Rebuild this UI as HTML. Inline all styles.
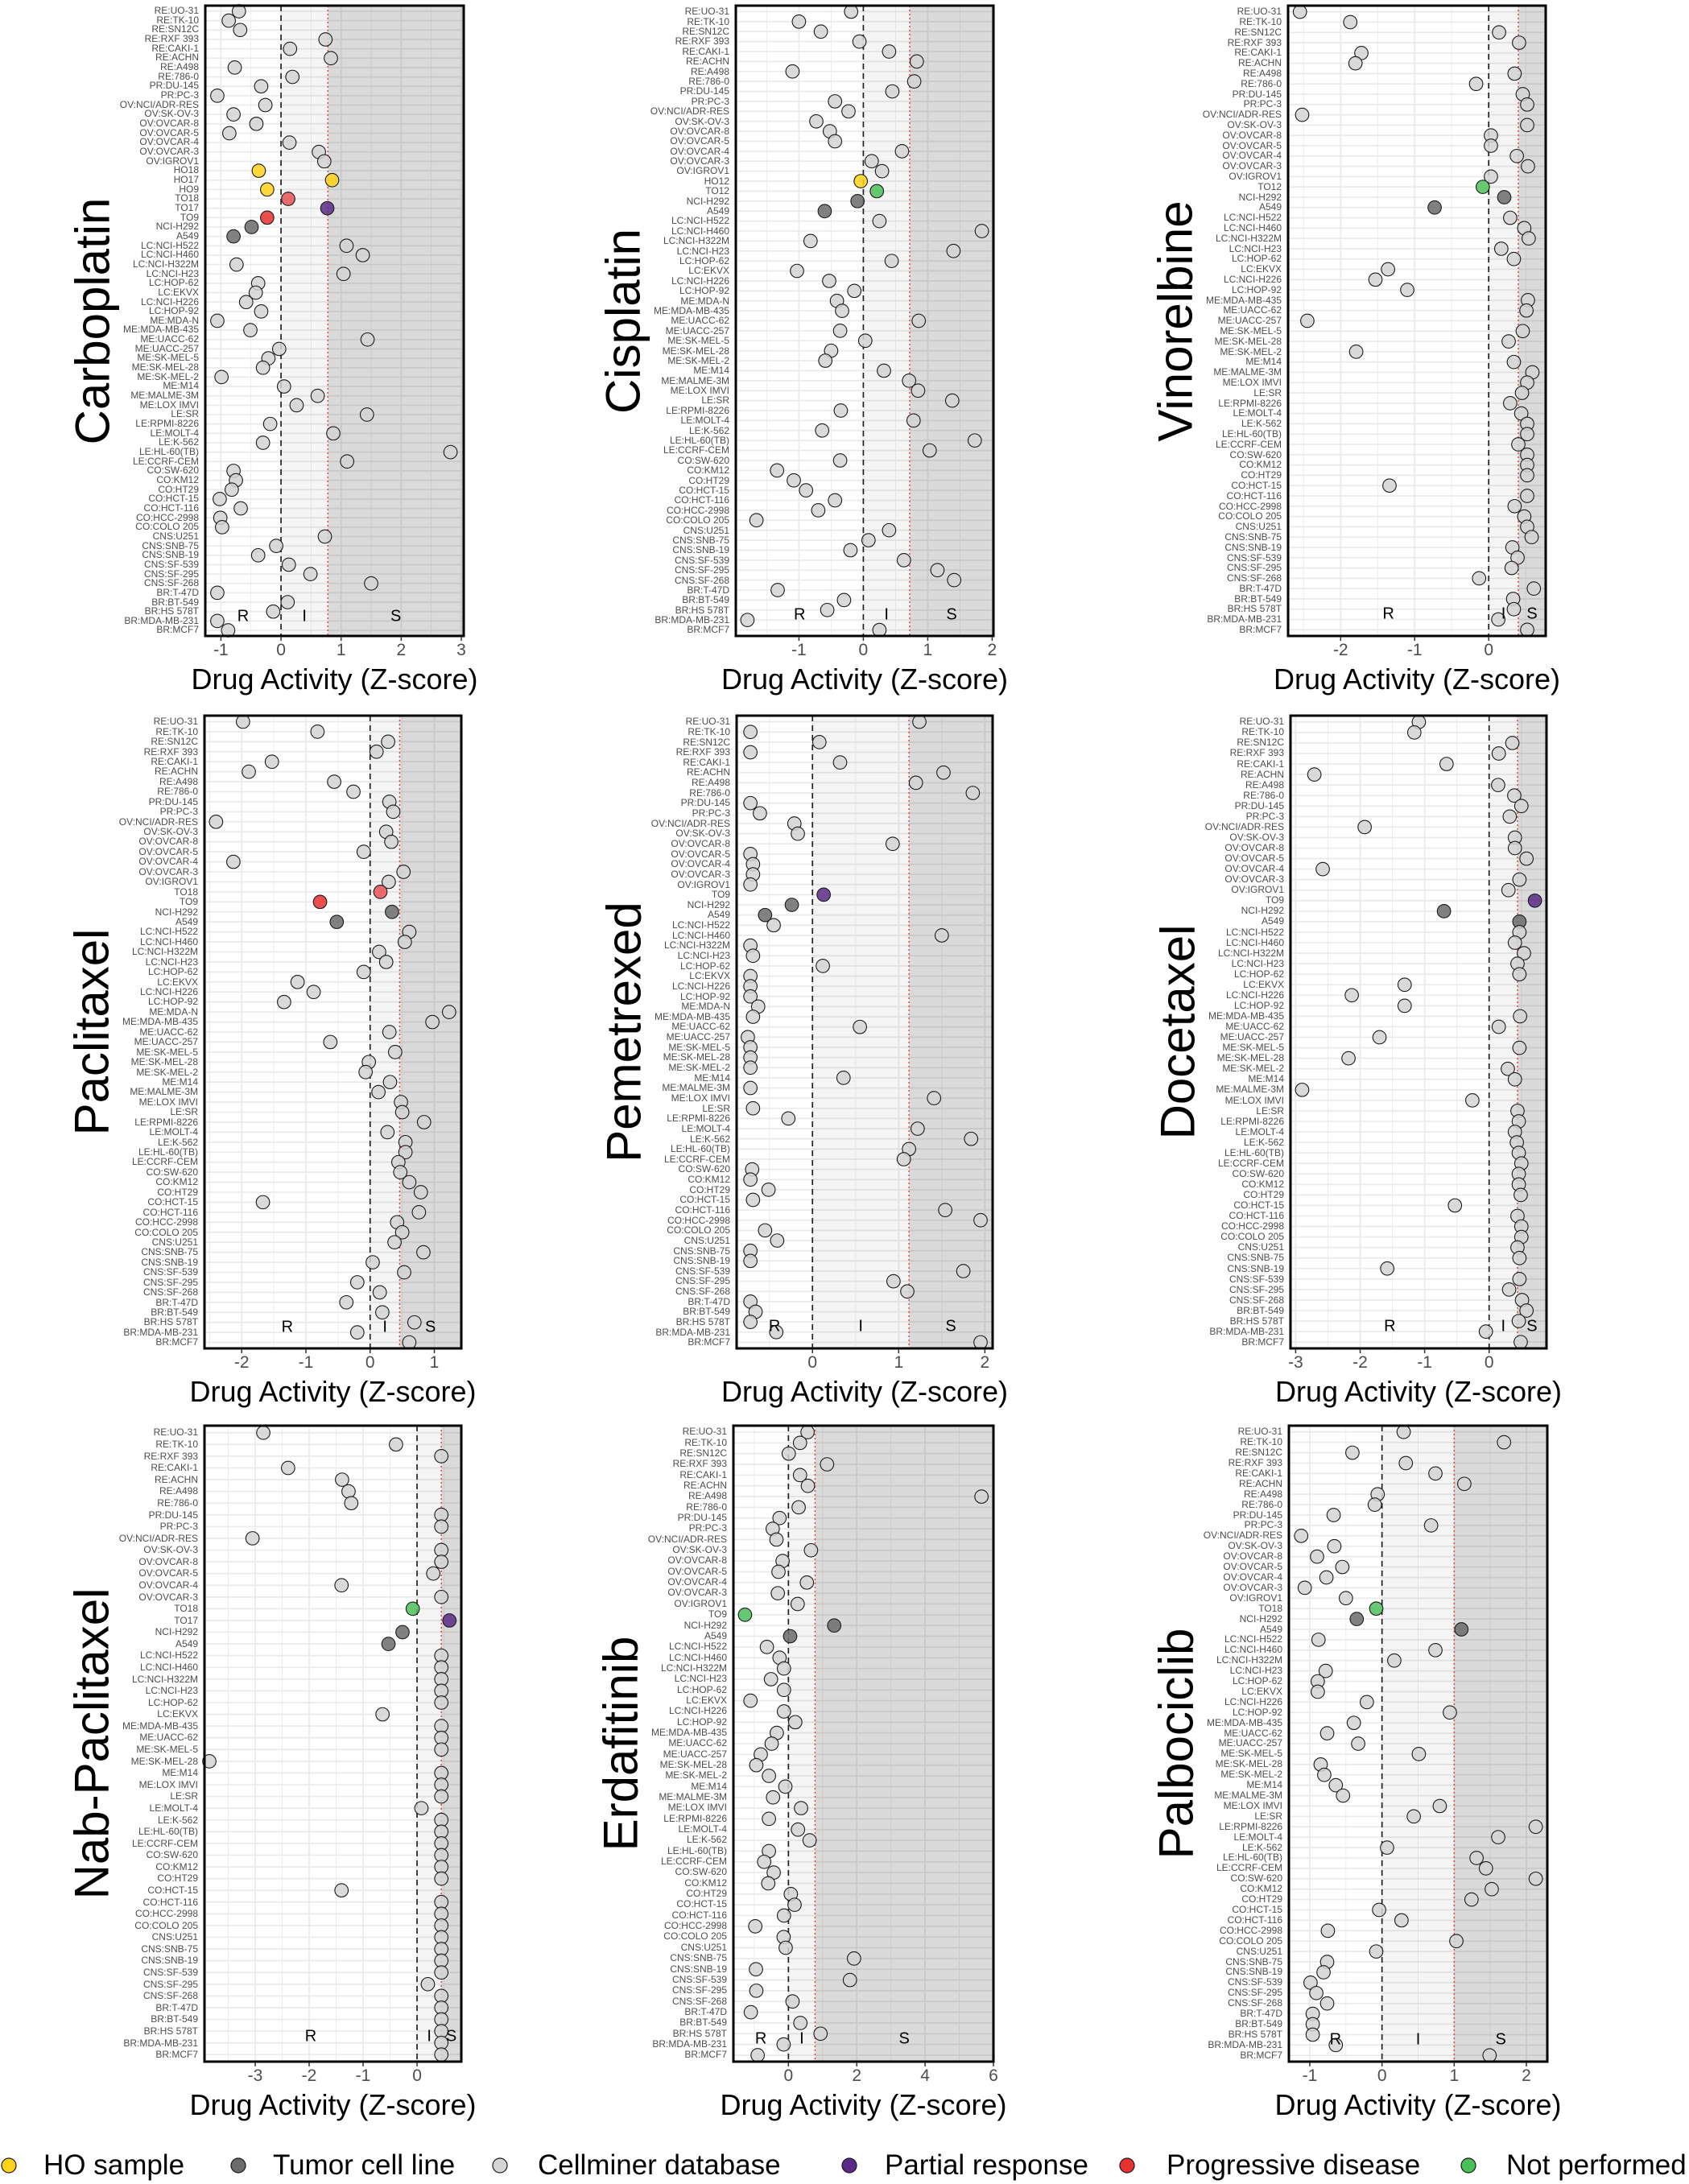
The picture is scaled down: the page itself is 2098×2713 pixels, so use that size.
<!DOCTYPE html>
<html><head><meta charset="utf-8"><style>
html,body{margin:0;padding:0}
body{width:2098px;height:2713px;position:relative;background:#fff;font-family:"Liberation Sans",sans-serif;overflow:hidden}
svg#g{position:absolute;left:0;top:0;z-index:0}
.pn div,.pn span{position:absolute;z-index:1}
.lab{font-size:12px;color:#4d4d4d;text-align:right;white-space:nowrap}
.nm{font-size:60px;color:#000;white-space:nowrap;transform:translate(-50%,-50%) rotate(-90deg)}
.tk span{font-size:21px;color:#4d4d4d;transform:translate(-50%,-50%);white-space:nowrap}
.xt{font-size:36px;color:#000;white-space:nowrap;transform:translate(-50%,-50%)}
.zn{font-size:20px;color:#000;transform:translate(-50%,-50%)}
.lg{position:absolute;top:2690px;font-size:35px;transform:translateY(-50%);white-space:nowrap;color:#000}
</style></head><body>
<svg id="g" width="2098" height="2713" xmlns="http://www.w3.org/2000/svg"></svg>

<div class="pn" id="p0"><div class="nm">Carboplatin</div><div class="lab">RE:UO-31<br>RE:TK-10<br>RE:SN12C<br>RE:RXF 393<br>RE:CAKI-1<br>RE:ACHN<br>RE:A498<br>RE:786-0<br>PR:DU-145<br>PR:PC-3<br>OV:NCI/ADR-RES<br>OV:SK-OV-3<br>OV:OVCAR-8<br>OV:OVCAR-5<br>OV:OVCAR-4<br>OV:OVCAR-3<br>OV:IGROV1<br>HO18<br>HO17<br>HO9<br>TO18<br>TO17<br>TO9<br>NCI-H292<br>A549<br>LC:NCI-H522<br>LC:NCI-H460<br>LC:NCI-H322M<br>LC:NCI-H23<br>LC:HOP-62<br>LC:EKVX<br>LC:NCI-H226<br>LC:HOP-92<br>ME:MDA-N<br>ME:MDA-MB-435<br>ME:UACC-62<br>ME:UACC-257<br>ME:SK-MEL-5<br>ME:SK-MEL-28<br>ME:SK-MEL-2<br>ME:M14<br>ME:MALME-3M<br>ME:LOX IMVI<br>LE:SR<br>LE:RPMI-8226<br>LE:MOLT-4<br>LE:K-562<br>LE:HL-60(TB)<br>LE:CCRF-CEM<br>CO:SW-620<br>CO:KM12<br>CO:HT29<br>CO:HCT-15<br>CO:HCT-116<br>CO:HCC-2998<br>CO:COLO 205<br>CNS:U251<br>CNS:SNB-75<br>CNS:SNB-19<br>CNS:SF-539<br>CNS:SF-295<br>CNS:SF-268<br>BR:T-47D<br>BR:BT-549<br>BR:HS 578T<br>BR:MDA-MB-231<br>BR:MCF7</div><div class="tk"><span>-1</span><span>0</span><span>1</span><span>2</span><span>3</span></div><div class="xt">Drug Activity (Z-score)</div><div class="zn">R</div><div class="zn">I</div><div class="zn">S</div></div>

<div class="pn" id="p1"><div class="nm">Cisplatin</div><div class="lab">RE:UO-31<br>RE:TK-10<br>RE:SN12C<br>RE:RXF 393<br>RE:CAKI-1<br>RE:ACHN<br>RE:A498<br>RE:786-0<br>PR:DU-145<br>PR:PC-3<br>OV:NCI/ADR-RES<br>OV:SK-OV-3<br>OV:OVCAR-8<br>OV:OVCAR-5<br>OV:OVCAR-4<br>OV:OVCAR-3<br>OV:IGROV1<br>HO12<br>TO12<br>NCI-H292<br>A549<br>LC:NCI-H522<br>LC:NCI-H460<br>LC:NCI-H322M<br>LC:NCI-H23<br>LC:HOP-62<br>LC:EKVX<br>LC:NCI-H226<br>LC:HOP-92<br>ME:MDA-N<br>ME:MDA-MB-435<br>ME:UACC-62<br>ME:UACC-257<br>ME:SK-MEL-5<br>ME:SK-MEL-28<br>ME:SK-MEL-2<br>ME:M14<br>ME:MALME-3M<br>ME:LOX IMVI<br>LE:SR<br>LE:RPMI-8226<br>LE:MOLT-4<br>LE:K-562<br>LE:HL-60(TB)<br>LE:CCRF-CEM<br>CO:SW-620<br>CO:KM12<br>CO:HT29<br>CO:HCT-15<br>CO:HCT-116<br>CO:HCC-2998<br>CO:COLO 205<br>CNS:U251<br>CNS:SNB-75<br>CNS:SNB-19<br>CNS:SF-539<br>CNS:SF-295<br>CNS:SF-268<br>BR:T-47D<br>BR:BT-549<br>BR:HS 578T<br>BR:MDA-MB-231<br>BR:MCF7</div><div class="tk"><span>-1</span><span>0</span><span>1</span><span>2</span></div><div class="xt">Drug Activity (Z-score)</div><div class="zn">R</div><div class="zn">I</div><div class="zn">S</div></div>

<div class="pn" id="p2"><div class="nm">Vinorelbine</div><div class="lab">RE:UO-31<br>RE:TK-10<br>RE:SN12C<br>RE:RXF 393<br>RE:CAKI-1<br>RE:ACHN<br>RE:A498<br>RE:786-0<br>PR:DU-145<br>PR:PC-3<br>OV:NCI/ADR-RES<br>OV:SK-OV-3<br>OV:OVCAR-8<br>OV:OVCAR-5<br>OV:OVCAR-4<br>OV:OVCAR-3<br>OV:IGROV1<br>TO12<br>NCI-H292<br>A549<br>LC:NCI-H522<br>LC:NCI-H460<br>LC:NCI-H322M<br>LC:NCI-H23<br>LC:HOP-62<br>LC:EKVX<br>LC:NCI-H226<br>LC:HOP-92<br>ME:MDA-MB-435<br>ME:UACC-62<br>ME:UACC-257<br>ME:SK-MEL-5<br>ME:SK-MEL-28<br>ME:SK-MEL-2<br>ME:M14<br>ME:MALME-3M<br>ME:LOX IMVI<br>LE:SR<br>LE:RPMI-8226<br>LE:MOLT-4<br>LE:K-562<br>LE:HL-60(TB)<br>LE:CCRF-CEM<br>CO:SW-620<br>CO:KM12<br>CO:HT29<br>CO:HCT-15<br>CO:HCT-116<br>CO:HCC-2998<br>CO:COLO 205<br>CNS:U251<br>CNS:SNB-75<br>CNS:SNB-19<br>CNS:SF-539<br>CNS:SF-295<br>CNS:SF-268<br>BR:T-47D<br>BR:BT-549<br>BR:HS 578T<br>BR:MDA-MB-231<br>BR:MCF7</div><div class="tk"><span>-2</span><span>-1</span><span>0</span></div><div class="xt">Drug Activity (Z-score)</div><div class="zn">R</div><div class="zn">I</div><div class="zn">S</div></div>

<div class="pn" id="p3"><div class="nm">Paclitaxel</div><div class="lab">RE:UO-31<br>RE:TK-10<br>RE:SN12C<br>RE:RXF 393<br>RE:CAKI-1<br>RE:ACHN<br>RE:A498<br>RE:786-0<br>PR:DU-145<br>PR:PC-3<br>OV:NCI/ADR-RES<br>OV:SK-OV-3<br>OV:OVCAR-8<br>OV:OVCAR-5<br>OV:OVCAR-4<br>OV:OVCAR-3<br>OV:IGROV1<br>TO18<br>TO9<br>NCI-H292<br>A549<br>LC:NCI-H522<br>LC:NCI-H460<br>LC:NCI-H322M<br>LC:NCI-H23<br>LC:HOP-62<br>LC:EKVX<br>LC:NCI-H226<br>LC:HOP-92<br>ME:MDA-N<br>ME:MDA-MB-435<br>ME:UACC-62<br>ME:UACC-257<br>ME:SK-MEL-5<br>ME:SK-MEL-28<br>ME:SK-MEL-2<br>ME:M14<br>ME:MALME-3M<br>ME:LOX IMVI<br>LE:SR<br>LE:RPMI-8226<br>LE:MOLT-4<br>LE:K-562<br>LE:HL-60(TB)<br>LE:CCRF-CEM<br>CO:SW-620<br>CO:KM12<br>CO:HT29<br>CO:HCT-15<br>CO:HCT-116<br>CO:HCC-2998<br>CO:COLO 205<br>CNS:U251<br>CNS:SNB-75<br>CNS:SNB-19<br>CNS:SF-539<br>CNS:SF-295<br>CNS:SF-268<br>BR:T-47D<br>BR:BT-549<br>BR:HS 578T<br>BR:MDA-MB-231<br>BR:MCF7</div><div class="tk"><span>-2</span><span>-1</span><span>0</span><span>1</span></div><div class="xt">Drug Activity (Z-score)</div><div class="zn">R</div><div class="zn">I</div><div class="zn">S</div></div>

<div class="pn" id="p4"><div class="nm">Pemetrexed</div><div class="lab">RE:UO-31<br>RE:TK-10<br>RE:SN12C<br>RE:RXF 393<br>RE:CAKI-1<br>RE:ACHN<br>RE:A498<br>RE:786-0<br>PR:DU-145<br>PR:PC-3<br>OV:NCI/ADR-RES<br>OV:SK-OV-3<br>OV:OVCAR-8<br>OV:OVCAR-5<br>OV:OVCAR-4<br>OV:OVCAR-3<br>OV:IGROV1<br>TO9<br>NCI-H292<br>A549<br>LC:NCI-H522<br>LC:NCI-H460<br>LC:NCI-H322M<br>LC:NCI-H23<br>LC:HOP-62<br>LC:EKVX<br>LC:NCI-H226<br>LC:HOP-92<br>ME:MDA-N<br>ME:MDA-MB-435<br>ME:UACC-62<br>ME:UACC-257<br>ME:SK-MEL-5<br>ME:SK-MEL-28<br>ME:SK-MEL-2<br>ME:M14<br>ME:MALME-3M<br>ME:LOX IMVI<br>LE:SR<br>LE:RPMI-8226<br>LE:MOLT-4<br>LE:K-562<br>LE:HL-60(TB)<br>LE:CCRF-CEM<br>CO:SW-620<br>CO:KM12<br>CO:HT29<br>CO:HCT-15<br>CO:HCT-116<br>CO:HCC-2998<br>CO:COLO 205<br>CNS:U251<br>CNS:SNB-75<br>CNS:SNB-19<br>CNS:SF-539<br>CNS:SF-295<br>CNS:SF-268<br>BR:T-47D<br>BR:BT-549<br>BR:HS 578T<br>BR:MDA-MB-231<br>BR:MCF7</div><div class="tk"><span>0</span><span>1</span><span>2</span></div><div class="xt">Drug Activity (Z-score)</div><div class="zn">R</div><div class="zn">I</div><div class="zn">S</div></div>

<div class="pn" id="p5"><div class="nm">Docetaxel</div><div class="lab">RE:UO-31<br>RE:TK-10<br>RE:SN12C<br>RE:RXF 393<br>RE:CAKI-1<br>RE:ACHN<br>RE:A498<br>RE:786-0<br>PR:DU-145<br>PR:PC-3<br>OV:NCI/ADR-RES<br>OV:SK-OV-3<br>OV:OVCAR-8<br>OV:OVCAR-5<br>OV:OVCAR-4<br>OV:OVCAR-3<br>OV:IGROV1<br>TO9<br>NCI-H292<br>A549<br>LC:NCI-H522<br>LC:NCI-H460<br>LC:NCI-H322M<br>LC:NCI-H23<br>LC:HOP-62<br>LC:EKVX<br>LC:NCI-H226<br>LC:HOP-92<br>ME:MDA-MB-435<br>ME:UACC-62<br>ME:UACC-257<br>ME:SK-MEL-5<br>ME:SK-MEL-28<br>ME:SK-MEL-2<br>ME:M14<br>ME:MALME-3M<br>ME:LOX IMVI<br>LE:SR<br>LE:RPMI-8226<br>LE:MOLT-4<br>LE:K-562<br>LE:HL-60(TB)<br>LE:CCRF-CEM<br>CO:SW-620<br>CO:KM12<br>CO:HT29<br>CO:HCT-15<br>CO:HCT-116<br>CO:HCC-2998<br>CO:COLO 205<br>CNS:U251<br>CNS:SNB-75<br>CNS:SNB-19<br>CNS:SF-539<br>CNS:SF-295<br>CNS:SF-268<br>BR:BT-549<br>BR:HS 578T<br>BR:MDA-MB-231<br>BR:MCF7</div><div class="tk"><span>-3</span><span>-2</span><span>-1</span><span>0</span></div><div class="xt">Drug Activity (Z-score)</div><div class="zn">R</div><div class="zn">I</div><div class="zn">S</div></div>

<div class="pn" id="p6"><div class="nm">Nab-Paclitaxel</div><div class="lab">RE:UO-31<br>RE:TK-10<br>RE:RXF 393<br>RE:CAKI-1<br>RE:ACHN<br>RE:A498<br>RE:786-0<br>PR:DU-145<br>PR:PC-3<br>OV:NCI/ADR-RES<br>OV:SK-OV-3<br>OV:OVCAR-8<br>OV:OVCAR-5<br>OV:OVCAR-4<br>OV:OVCAR-3<br>TO18<br>TO17<br>NCI-H292<br>A549<br>LC:NCI-H522<br>LC:NCI-H460<br>LC:NCI-H322M<br>LC:NCI-H23<br>LC:HOP-62<br>LC:EKVX<br>ME:MDA-MB-435<br>ME:UACC-62<br>ME:SK-MEL-5<br>ME:SK-MEL-28<br>ME:M14<br>ME:LOX IMVI<br>LE:SR<br>LE:MOLT-4<br>LE:K-562<br>LE:HL-60(TB)<br>LE:CCRF-CEM<br>CO:SW-620<br>CO:KM12<br>CO:HT29<br>CO:HCT-15<br>CO:HCT-116<br>CO:HCC-2998<br>CO:COLO 205<br>CNS:U251<br>CNS:SNB-75<br>CNS:SNB-19<br>CNS:SF-539<br>CNS:SF-295<br>CNS:SF-268<br>BR:T-47D<br>BR:BT-549<br>BR:HS 578T<br>BR:MDA-MB-231<br>BR:MCF7</div><div class="tk"><span>-3</span><span>-2</span><span>-1</span><span>0</span></div><div class="xt">Drug Activity (Z-score)</div><div class="zn">R</div><div class="zn">I</div><div class="zn">S</div></div>

<div class="pn" id="p7"><div class="nm">Erdafitinib</div><div class="lab">RE:UO-31<br>RE:TK-10<br>RE:SN12C<br>RE:RXF 393<br>RE:CAKI-1<br>RE:ACHN<br>RE:A498<br>RE:786-0<br>PR:DU-145<br>PR:PC-3<br>OV:NCI/ADR-RES<br>OV:SK-OV-3<br>OV:OVCAR-8<br>OV:OVCAR-5<br>OV:OVCAR-4<br>OV:OVCAR-3<br>OV:IGROV1<br>TO9<br>NCI-H292<br>A549<br>LC:NCI-H522<br>LC:NCI-H460<br>LC:NCI-H322M<br>LC:NCI-H23<br>LC:HOP-62<br>LC:EKVX<br>LC:NCI-H226<br>LC:HOP-92<br>ME:MDA-MB-435<br>ME:UACC-62<br>ME:UACC-257<br>ME:SK-MEL-28<br>ME:SK-MEL-2<br>ME:M14<br>ME:MALME-3M<br>ME:LOX IMVI<br>LE:RPMI-8226<br>LE:MOLT-4<br>LE:K-562<br>LE:HL-60(TB)<br>LE:CCRF-CEM<br>CO:SW-620<br>CO:KM12<br>CO:HT29<br>CO:HCT-15<br>CO:HCT-116<br>CO:HCC-2998<br>CO:COLO 205<br>CNS:U251<br>CNS:SNB-75<br>CNS:SNB-19<br>CNS:SF-539<br>CNS:SF-295<br>CNS:SF-268<br>BR:T-47D<br>BR:BT-549<br>BR:HS 578T<br>BR:MDA-MB-231<br>BR:MCF7</div><div class="tk"><span>0</span><span>2</span><span>4</span><span>6</span></div><div class="xt">Drug Activity (Z-score)</div><div class="zn">R</div><div class="zn">I</div><div class="zn">S</div></div>

<div class="pn" id="p8"><div class="nm">Palbociclib</div><div class="lab">RE:UO-31<br>RE:TK-10<br>RE:SN12C<br>RE:RXF 393<br>RE:CAKI-1<br>RE:ACHN<br>RE:A498<br>RE:786-0<br>PR:DU-145<br>PR:PC-3<br>OV:NCI/ADR-RES<br>OV:SK-OV-3<br>OV:OVCAR-8<br>OV:OVCAR-5<br>OV:OVCAR-4<br>OV:OVCAR-3<br>OV:IGROV1<br>TO18<br>NCI-H292<br>A549<br>LC:NCI-H522<br>LC:NCI-H460<br>LC:NCI-H322M<br>LC:NCI-H23<br>LC:HOP-62<br>LC:EKVX<br>LC:NCI-H226<br>LC:HOP-92<br>ME:MDA-MB-435<br>ME:UACC-62<br>ME:UACC-257<br>ME:SK-MEL-5<br>ME:SK-MEL-28<br>ME:SK-MEL-2<br>ME:M14<br>ME:MALME-3M<br>ME:LOX IMVI<br>LE:SR<br>LE:RPMI-8226<br>LE:MOLT-4<br>LE:K-562<br>LE:HL-60(TB)<br>LE:CCRF-CEM<br>CO:SW-620<br>CO:KM12<br>CO:HT29<br>CO:HCT-15<br>CO:HCT-116<br>CO:HCC-2998<br>CO:COLO 205<br>CNS:U251<br>CNS:SNB-75<br>CNS:SNB-19<br>CNS:SF-539<br>CNS:SF-295<br>CNS:SF-268<br>BR:T-47D<br>BR:BT-549<br>BR:HS 578T<br>BR:MDA-MB-231<br>BR:MCF7</div><div class="tk"><span>-1</span><span>0</span><span>1</span><span>2</span></div><div class="xt">Drug Activity (Z-score)</div><div class="zn">R</div><div class="zn">I</div><div class="zn">S</div></div>

<div class="lg" style="left:54px">HO sample</div>
<div class="lg" style="left:339px">Tumor cell line</div>
<div class="lg" style="left:668px">Cellminer database</div>
<div class="lg" style="left:1099px">Partial response</div>
<div class="lg" style="left:1449px">Progressive disease</div>
<div class="lg" style="left:1871px">Not performed</div>

<script>
var RED='#e8302e',RED2='#e85252',PUR='#5b2a86',GRN='#4cbf58',YEL='#ffd21a',DARK='#6b6b6b',LIGHT='#d4d4d4';
var P=[
{l:255,r:576,t:7,b:790,min:-1.26,max:3.04,red:0.78,maj:1,mi:0.5,to:{TO18:RED2,TO17:PUR,TO9:RED},
v:[-0.70,-0.87,-0.68,0.74,0.15,0.83,-0.77,0.19,-0.33,-1.06,-0.26,-0.79,-0.41,-0.86,0.14,0.63,0.72,-0.37,0.85,-0.23,0.12,0.77,-0.23,-0.49,-0.79,1.09,1.36,-0.74,1.04,-0.38,-0.42,-0.58,-0.33,-1.06,-0.51,1.44,-0.03,-0.21,-0.30,-0.99,0.05,0.61,0.26,1.43,-0.18,0.87,-0.30,2.82,1.10,-0.79,-0.75,-0.82,-1.02,-0.67,-1.01,-0.98,0.73,-0.08,-0.38,0.13,0.49,1.50,-1.06,0.11,-0.13,-1.06,-0.88]},
{l:914,r:1234,t:7,b:790,min:-1.98,max:2.02,red:0.72,maj:1,mi:0.5,to:{TO12:GRN},
v:[-0.19,-1.0,-0.66,-0.06,0.40,0.83,-1.10,0.79,0.45,-0.44,-0.23,-0.73,-0.52,-0.44,0.60,0.13,0.29,-0.04,0.21,-0.09,-0.60,0.25,1.84,-0.82,1.40,0.44,-1.03,-0.53,-0.14,-0.41,-0.33,0.86,-0.36,0.03,-0.50,-0.59,0.32,0.71,0.85,1.38,-0.35,0.78,-0.64,1.73,1.03,-0.36,-1.34,-1.08,-0.89,-0.44,-0.70,-1.66,0.40,0.08,-0.20,0.63,1.15,1.41,-1.33,-0.30,-0.56,-1.80,0.25]},
{l:1600,r:1920,t:7,b:790,min:-2.71,max:0.77,red:0.40,maj:1,mi:0.5,to:{TO12:GRN},
v:[-2.55,-1.87,0.14,0.41,-1.72,-1.80,0.35,-0.17,0.46,0.52,-2.52,0.52,0.03,0.03,0.38,0.53,0.03,-0.08,0.21,-0.73,0.29,0.48,0.54,0.17,0.34,-1.36,-1.53,-1.10,0.53,0.51,-2.45,0.46,0.27,-1.79,0.34,0.59,0.52,0.45,0.29,0.44,0.52,0.52,0.40,0.52,0.52,0.52,-1.34,0.52,0.35,0.48,0.52,0.58,0.32,0.39,0.31,-0.13,0.61,0.33,0.34,0.13,0.52]},
{l:254,r:573,t:889,b:1675,min:-2.58,max:1.42,red:0.46,maj:1,mi:0.5,to:{TO18:RED2,TO9:RED},
v:[-1.98,-0.82,0.28,0.10,-1.53,-1.89,-0.56,-0.26,0.30,0.36,-2.40,0.25,0.33,-0.10,-2.13,0.52,0.29,0.16,-0.78,0.34,-0.52,0.61,0.54,0.14,0.25,-0.10,-1.13,-0.88,-1.34,1.23,0.97,0.30,-0.62,0.39,-0.02,-0.07,0.31,0.13,0.48,0.50,0.84,0.27,0.55,0.55,0.44,0.47,0.61,0.79,-1.67,0.76,0.42,0.50,0.38,0.83,0.04,0.53,-0.20,0.15,-0.37,0.19,0.69,-0.20,0.61]},
{l:915,r:1233,t:889,b:1675,min:-0.88,max:2.09,red:1.12,maj:1,mi:0.5,to:{TO9:PUR},
v:[1.24,-0.72,0.08,-0.72,0.32,1.52,1.20,1.86,-0.72,-0.61,-0.21,-0.17,0.93,-0.72,-0.69,-0.69,-0.72,0.13,-0.24,-0.55,-0.45,1.50,-0.72,-0.69,0.12,-0.72,-0.72,-0.72,-0.63,-0.69,0.55,-0.75,-0.72,-0.72,-0.72,0.36,-0.72,1.41,-0.69,-0.28,1.22,1.84,1.12,1.06,-0.70,-0.72,-0.51,-0.69,1.54,1.95,-0.55,-0.41,-0.72,-0.72,1.75,0.94,1.10,-0.72,-0.66,-0.72,-0.42,1.95]},
{l:1603,r:1921,t:889,b:1675,min:-3.08,max:0.89,red:0.44,maj:1,mi:0.5,to:{TO9:PUR},
v:[-1.09,-1.16,0.36,0.15,-0.66,-2.71,0.14,0.39,0.50,0.32,-1.93,0.40,0.40,0.58,-2.58,0.47,0.30,0.71,-0.70,0.47,0.47,0.40,0.54,0.44,0.47,-1.31,-2.13,-1.31,0.48,0.15,-1.70,0.47,-2.18,0.29,0.40,-2.90,-0.26,0.44,0.46,0.40,0.43,0.46,0.50,0.46,0.46,0.49,-0.53,0.44,0.50,0.50,0.44,0.47,-1.58,0.47,0.31,0.51,0.58,0.46,-0.05,0.49]},
{l:254,r:573,t:1771,b:2561,min:-3.94,max:0.82,red:0.45,maj:1,mi:0.5,to:{TO18:GRN,TO17:PUR},
v:[-2.85,-0.39,0.45,-2.39,-1.39,-1.27,-1.22,0.45,0.45,-3.05,0.45,0.45,0.30,-1.40,0.45,-0.08,0.60,-0.27,-0.53,0.45,0.45,0.45,0.45,0.45,-0.64,0.45,0.45,0.45,-3.85,0.45,0.45,0.45,0.08,0.45,0.45,0.45,0.45,0.45,0.45,-1.40,0.45,0.45,0.45,0.45,0.45,0.45,0.45,0.20,0.45,0.45,0.45,0.45,0.45,0.45]},
{l:911,r:1234,t:1771,b:2561,min:-1.61,max:6.0,red:0.78,maj:2,mi:1,to:{TO9:GRN},
v:[0.56,0.34,0.01,1.13,0.34,0.57,5.65,0.30,-0.26,-0.46,-0.35,0.66,-0.17,-0.29,0.54,-0.31,0.27,-1.27,1.34,0.05,-0.63,-0.26,-0.13,-0.51,-0.13,-1.11,-0.13,0.20,-0.34,-0.49,-0.81,-0.94,-0.57,-0.09,-0.45,0.37,-0.57,0.28,0.62,-0.57,-0.71,-0.43,-0.59,0.07,0.18,-0.13,-0.97,-0.14,-0.08,1.92,-0.95,1.80,-0.94,0.12,-1.10,0.35,0.94,-0.14,-0.90]},
{l:1601,r:1922,t:1771,b:2561,min:-1.29,max:2.29,red:1.0,maj:1,mi:0.5,to:{TO18:GRN},
v:[0.30,1.69,-0.41,0.33,0.74,1.14,-0.06,-0.10,-0.67,0.68,-1.12,-0.66,-0.90,-0.55,-0.77,-1.07,-0.50,-0.08,-0.35,1.10,-0.88,0.74,0.17,-0.78,-0.89,-0.89,-0.21,0.94,-0.39,-0.76,-0.33,0.51,-0.85,-0.80,-0.64,-0.54,0.80,0.44,2.13,1.61,0.07,1.31,1.44,2.13,1.52,1.24,-0.04,0.27,-0.75,1.03,-0.08,-0.76,-0.81,-0.99,-0.91,-0.76,-0.96,-0.96,-0.96,-0.64,1.49]}
];
var NS='http://www.w3.org/2000/svg',svg=document.getElementById('g');
function E(tag,a,p){var e=document.createElementNS(NS,tag);for(var k in a)e.setAttribute(k,a[k]);(p||svg).appendChild(e);return e;}
P.forEach(function(p,k){
 var root=document.getElementById('p'+k),labEl=root.querySelector('.lab');
 var labs=labEl.innerHTML.split(/<br\s*\/?>/i).map(function(s){return s.replace(/&amp;/g,'&').trim();});
 var n=labs.length,s=(p.b-p.t)/(n+0.2);
 var X=function(v){return p.l+(v-p.min)/(p.max-p.min)*(p.r-p.l);},Y=function(i){return p.t+(0.6+i)*s;};
 E('rect',{x:p.l,y:p.t,width:p.r-p.l,height:p.b-p.t,fill:'#fff'});
 for(var j=Math.ceil(p.min/p.mi);j*p.mi<=p.max;j++){var v=j*p.mi,maj=Math.abs(v/p.maj-Math.round(v/p.maj))<1e-6;
  E('line',{x1:X(v),x2:X(v),y1:p.t,y2:p.b,stroke:'#ebebeb','stroke-width':maj?1.8:0.9});}
 for(var i=0;i<n;i++)E('line',{x1:p.l,x2:p.r,y1:Y(i),y2:Y(i),stroke:'#ebebeb','stroke-width':1.8});
 E('rect',{x:X(0),y:p.t,width:X(p.red)-X(0),height:p.b-p.t,fill:'rgba(0,0,0,0.04)'});
 E('rect',{x:X(p.red),y:p.t,width:p.r-X(p.red),height:p.b-p.t,fill:'rgba(0,0,0,0.145)'});
 E('line',{x1:X(0),x2:X(0),y1:p.t,y2:p.b,stroke:'#222','stroke-width':1.7,'stroke-dasharray':'7,5'});
 E('line',{x1:X(p.red),x2:X(p.red),y1:p.t,y2:p.b,stroke:'#e04848','stroke-width':1.5,'stroke-dasharray':'2,3'});
 for(var i=0;i<n;i++){var v=p.v[i];if(v===undefined)continue;var L=labs[i],f=LIGHT;
  if(/^HO/.test(L))f=YEL;else if(p.to[L])f=p.to[L];else if(L=='NCI-H292'||L=='A549')f=DARK;
  E('circle',{cx:X(v),cy:Y(i),r:8.3,fill:f,'fill-opacity':0.85,stroke:'#1a1a1a','stroke-width':1.1});}
 E('rect',{x:p.l,y:p.t,width:p.r-p.l,height:p.b-p.t,fill:'none',stroke:'#000','stroke-width':3});
 labEl.style.right=(2098-(p.l-8))+'px';labEl.style.top=(p.t+0.1*s)+'px';labEl.style.lineHeight=s+'px';
 var nm=root.querySelector('.nm');nm.style.left=(p.l-140)+'px';nm.style.top=((p.t+p.b)/2)+'px';
 root.querySelectorAll('.tk span').forEach(function(sp){var v=parseFloat(sp.textContent);sp.style.left=X(v)+'px';sp.style.top=(p.b+18)+'px';
  E('line',{x1:X(v),x2:X(v),y1:p.b+1,y2:p.b+6,stroke:'#333','stroke-width':1.5});});
 var xt=root.querySelector('.xt');xt.style.left=((p.l+p.r)/2)+'px';xt.style.top=(p.b+54)+'px';
 var z=root.querySelectorAll('.zn'),zy=Y(n-2.5),zx=[(p.min+0)/2,p.red/2,(p.red+p.max)/2];
 for(var q=0;q<3;q++){z[q].style.left=X(zx[q])+'px';z[q].style.top=zy+'px';}
});
var lc=[[11,YEL],[296,DARK],[621,LIGHT],[1055,PUR],[1400,RED],[1824,GRN]];
lc.forEach(function(c){E('circle',{cx:c[0],cy:2690,r:9,fill:c[1],stroke:'#1a1a1a','stroke-width':1.2});});
</script>
</body></html>
